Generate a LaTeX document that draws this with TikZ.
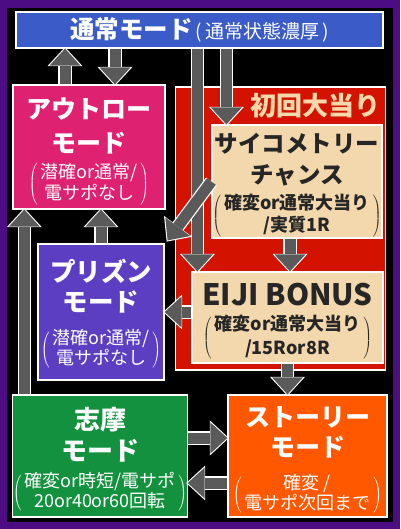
\documentclass[tikz,border=0pt]{standalone}
\usepackage{fontspec}
\usepackage{array}
\newfontfamily\jp{Noto Sans CJK JP}
\usetikzlibrary{arrows.meta,positioning,calc}
\definecolor{framepurple}{HTML}{4B0C84}
\definecolor{modeblue}{HTML}{3A5BC8}
\definecolor{outlawpink}{HTML}{DE2170}
\definecolor{hitred}{HTML}{D31300}
\definecolor{bonusbeige}{HTML}{F3D8AD}
\definecolor{prisonviolet}{HTML}{5C3EC3}
\definecolor{shimagreen}{HTML}{13913F}
\definecolor{storyorange}{HTML}{FF5800}
\definecolor{arrowgray}{HTML}{5A5A5A}
\definecolor{titlebeige}{HTML}{F7D8AA}
\delimitershortfall=8pt
\delimiterfactor=850
\newcommand{\modename}[4]{{\bfseries\fontsize{#1}{#2}\selectfont%
	\rule{0pt}{\dimexpr#1pt*38/100+#2pt/2+#3pt\relax}%
	\begin{tabular}[t]{@{}>{\rule[\dimexpr#1pt*38/100-#2pt/2\relax]{0pt}{#2pt}}c@{}}#4\end{tabular}}}
\newcommand{\subnote}[1]{{\fontsize{18}{21}\selectfont%
	$\left(\mkern3mu\vcenter{\hbox{\begin{tabular}{@{}c@{}}#1\end{tabular}}}\mkern3mu\right)$}}

\begin{document}
\begin{tikzpicture}[
	x=1pt, y=-1pt,
	font=\jp,
	mode/.style={
		rectangle, draw=white, line width=1.2pt,
		text=white, align=center, inner sep=0pt
	},
	bonus/.style={mode, fill=bonusbeige, text=black!85},
	flow/.style={
		draw=arrowgray, line width=11pt,
		-{Triangle[width=31pt,length=17pt,line width=0pt]},
		preaction={draw=white, line width=13.5pt, shorten >=-1.5pt,
			-{Triangle[width=35pt,length=19pt,line width=0pt]}}
	},
	]
	\fill[framepurple] (0,0) rectangle (400,529);
	\fill[black] (7,8) rectangle (393,522);

	\node[mode, fill=modeblue, minimum width=367, minimum height=36] (normal) at (199.5,30)
		{{\bfseries\fontsize{24.5}{24.5}\selectfont 通常モード}{\fontsize{19}{19}\selectfont\hspace{3pt}(\hspace{3pt}通常状態濃厚\hspace{3pt})}};
	\node[mode, fill=hitred, minimum width=210, minimum height=283] (firsthit) at (280.5,228.5) {};
	\node[anchor=north east, inner sep=0pt, text=titlebeige, font=\jp\bfseries\fontsize{26}{26}\selectfont]
		(firsthittitle) at ([shift={(-5pt,-7pt)}]firsthit.north east) {初回大当り};

	\node[mode, fill=outlawpink, minimum width=152, minimum height=124] (outlaw) at (89,147)
		{\modename{25}{30}{6}{アウトロー\\モード}\\[1pt]\subnote{潜確or通常/\\[-0.5pt]電サポなし}};
	\node[bonus, minimum width=170, minimum height=113] (psycho) at (297,181.5)
		{\modename{23.5}{28}{4}{サイコメトリー\\チャンス}\\[1pt]\subnote{\bfseries 確変or通常大当り\\\bfseries /実質1R}};
	\node[bonus, minimum width=191, minimum height=91] (eiji) at (287.5,317.5)
		{{\bfseries\fontsize{29.5}{29.5}\selectfont\rule{0pt}{31pt}EIJI BONUS}\\[8pt]\subnote{\bfseries 確変or通常大当り\\[3pt]\bfseries /15Ror8R}};
	\node[mode, fill=prisonviolet, minimum width=126, minimum height=136] (prison) at (101,312)
		{\modename{25.5}{25}{7}{プリズン\\モード}\\[9pt]\subnote{潜確or通常/\\[-1pt]電サポなし}};
	\node[mode, fill=shimagreen, minimum width=174, minimum height=122] (shima) at (100,456)
		{\modename{26}{26.5}{8}{志摩\\モード}\\[3pt]\subnote{確変or時短/電サポ\\[-1pt]20or40or60回転}};
	\node[mode, fill=storyorange, minimum width=159, minimum height=122] (story) at (307.5,456)
		{\modename{25}{26}{8}{ストーリー\\モード}\\[8.5pt]\subnote{確変 /\\[-1.5pt]電サポ次回まで}};

	\draw[flow] ([xshift=-24pt]outlaw.north) -- ([xshift=-24pt]outlaw.north |- normal.south);
	\draw[flow] ([xshift=26pt]outlaw.north |- normal.south) -- ([xshift=26pt]outlaw.north);
	\draw[flow] ([xshift=6pt]eiji.north west |- normal.south) -- ([xshift=6pt]eiji.north west);
	\draw[flow] ([xshift=15pt]psycho.north west |- normal.south) -- ([xshift=15pt]psycho.north west);
	\draw[flow] (psycho.west) -- ([shift={(3pt,3pt)}]prison.north east);
	\draw[flow] ([xshift=-7pt]psycho.south) -- ([xshift=-7pt]psycho.south |- eiji.north);
	\draw[flow] ([yshift=5.5pt]eiji.west) -- ([yshift=5.5pt]eiji.west -| prison.east);
	\draw[flow] (eiji.south) -- (eiji.south |- story.north);
	\draw[flow] ([yshift=18pt]shima.east) -- ([yshift=18pt]shima.east -| story.west);
	\draw[flow] ([yshift=-27pt]story.west) -- ([yshift=-27pt]story.west -| shima.east);
	\draw[flow] (prison.north) -- (prison.north |- outlaw.south);
	\draw[flow] ([xshift=12pt]shima.north west) -- ([xshift=12pt]shima.north west |- outlaw.south);
\end{tikzpicture}
\end{document}
